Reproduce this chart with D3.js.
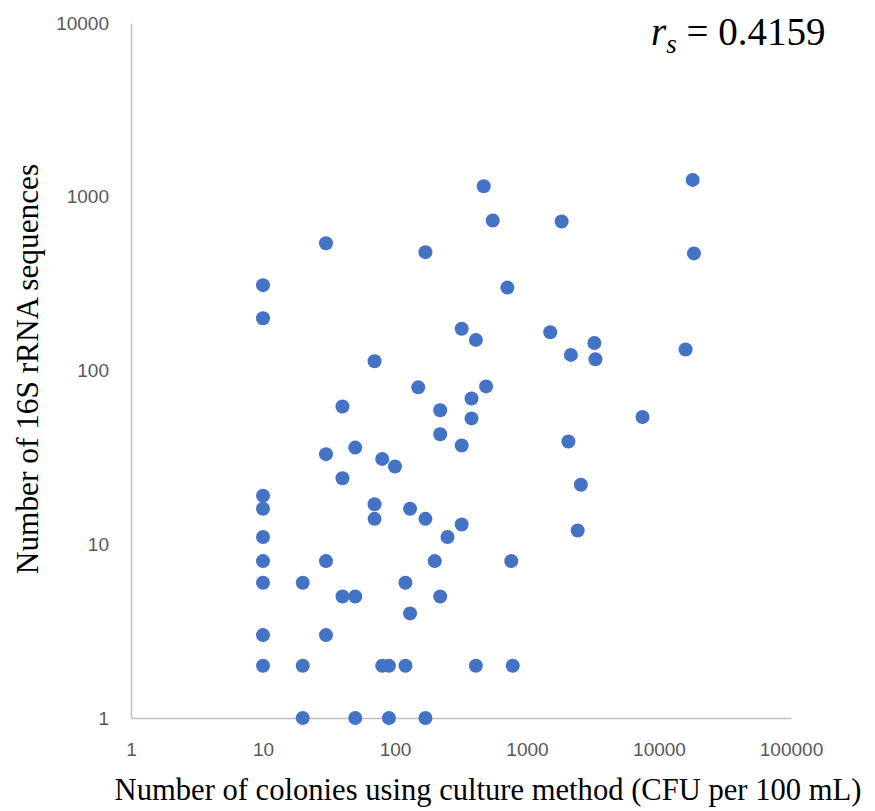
<!DOCTYPE html>
<html>
<head>
<meta charset="utf-8">
<script src="https://cdn.jsdelivr.net/npm/d3@7"></script>
<style>
  html, body { margin: 0; padding: 0; background: #ffffff; }
  svg { display: block; }
</style>
</head>
<body>
<svg id="chart" width="875" height="811"></svg>
<script>
// Data (CFU per 100 mL vs number of 16S rRNA sequences)
const cfu = [10, 10, 10, 10, 10, 10, 10, 10, 10,
  20, 20, 20,
  30, 30, 30, 30,
  40, 40, 40,
  50, 50, 50,
  70, 70, 70,
  80, 80, 90, 90, 100,
  120, 120, 130, 130,
  150, 170, 170, 170,
  200, 220, 220, 220, 250,
  320, 320, 320, 380, 380, 410, 410,
  470, 490, 550, 710, 760, 780,
  1500, 1830, 2060, 2150, 2420, 2560, 3240, 3300,
  7500, 15900, 18000, 18400];
const seqs = [310, 200, 19, 16, 11, 8, 6, 3, 2,
  6, 2, 1,
  540, 33, 8, 3,
  62, 24, 5,
  36, 5, 1,
  113, 17, 14,
  31, 2, 2, 1, 28,
  6, 2, 16, 4,
  80, 480, 14, 1,
  8, 59, 43, 5, 11,
  174, 37, 13, 69, 53, 150, 2,
  1150, 81, 730, 300, 8, 2,
  166, 720, 39, 123, 12, 22, 144, 116,
  54, 132, 1250, 472];
const xTicks = [1, 10, 100, 1000, 10000, 100000];
const yTicks = [1, 10, 100, 1000, 10000];
const xTitle = "Number of colonies using culture method (CFU per 100 mL)";
const yTitle = "Number of 16S rRNA sequences";
const rsValue = "0.4159";

const svg = d3.select("#chart");
const x = d3.scaleLog().domain([1, 100000]).range([131, 791]);
const y = d3.scaleLog().domain([1, 10000]).range([718, 23]);

const axisColor = "#BFBFBF";
const tickColor = "#595959";
const tickFont = "'Liberation Sans', Arial, sans-serif";
const serif = "'Liberation Serif', 'Times New Roman', serif";

// X axis
const gx = svg.append("g").attr("transform", "translate(0,718)")
  .call(d3.axisBottom(x).tickValues(xTicks).tickFormat(d3.format("d")).tickSize(0).tickSizeOuter(0));
gx.select(".domain").attr("stroke", axisColor).attr("stroke-width", 1.5);
gx.selectAll("text").attr("y", 31).attr("dy", "0.35em")
  .attr("fill", tickColor).style("font-family", tickFont).style("font-size", "19px");

// Y axis
const gy = svg.append("g").attr("transform", "translate(131,0)")
  .call(d3.axisLeft(y).tickValues(yTicks).tickFormat(d3.format("d")).tickSize(0).tickSizeOuter(0).tickPadding(22));
gy.select(".domain").attr("stroke", axisColor).attr("stroke-width", 1.5);
gy.selectAll("text").attr("fill", tickColor).style("font-family", tickFont).style("font-size", "19px");

// Points
const pts = cfu.map((c, i) => ({ c, s: seqs[i] }));
svg.append("g").selectAll("circle").data(pts).join("circle")
  .attr("cx", d => x(d.c))
  .attr("cy", d => y(d.s))
  .attr("r", 7)
  .attr("fill", "#4472C4");

// Axis titles
svg.append("text")
  .attr("x", 488).attr("y", 800)
  .attr("text-anchor", "middle")
  .style("font-family", serif).style("font-size", "30.6px").attr("fill", "#000")
  .text(xTitle);

svg.append("text")
  .attr("transform", "translate(38,369) rotate(-90)")
  .attr("text-anchor", "middle")
  .style("font-family", serif).style("font-size", "31.3px").attr("fill", "#000")
  .text(yTitle);

// Correlation annotation
const rs = svg.append("text")
  .attr("x", 651).attr("y", 45)
  .style("font-family", serif).style("font-size", "39px").attr("fill", "#000");
rs.append("tspan").style("font-style", "italic").text("r");
rs.append("tspan").style("font-style", "italic").style("font-size", "27px").attr("dy", 8).text("s");
rs.append("tspan").attr("dy", -8).text(" = " + rsValue);
</script>
</body>
</html>
